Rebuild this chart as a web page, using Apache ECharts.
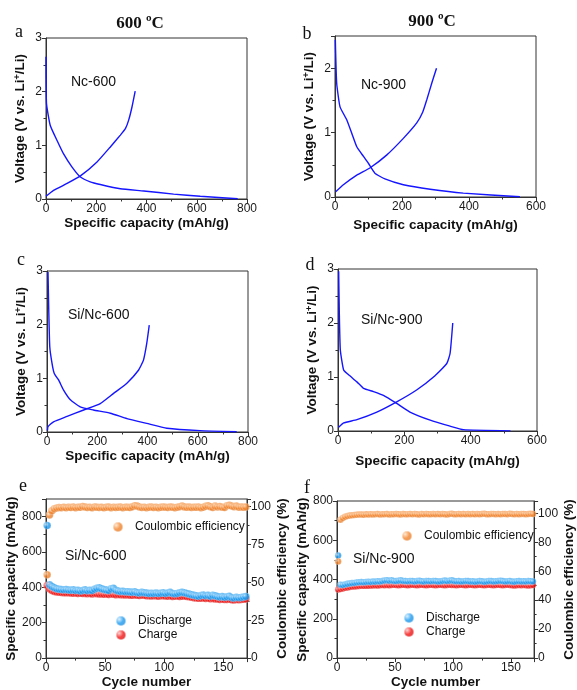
<!DOCTYPE html>
<html>
<head>
<meta charset="utf-8">
<script src="https://cdn.jsdelivr.net/npm/echarts@6/dist/echarts.min.js"></script>
<style>
  html, body { margin: 0; padding: 0; background: #fff; }
  #main { width: 577px; height: 690px; }
</style>
</head>
<body>
<div id="main"></div>
<script>
var FONT = '"Liberation Sans", Arial, sans-serif';
var SERIF = '"Liberation Serif", "Times New Roman", serif';
var LINE_BLUE = '#1515ff';

// 充放电曲线 [容量 mAh/g, 电压 V]
var nc600Discharge = [[0,2.65],[2,1.78],[17,1.37],[44,1.09],[70,0.84],[103,0.6],[137,0.41],[176,0.32],[216,0.27],[296,0.19],[389,0.15],[508,0.09],[614,0.05],[763,0.006]];
var nc600Charge = [[0,0.05],[30,0.16],[84,0.29],[137,0.43],[203,0.69],[256,0.97],[296,1.19],[316,1.31],[329,1.47],[342,1.71],[355,2.01]];

var nc900Discharge = [[1,2.44],[5,1.77],[15,1.4],[35,1.2],[50,0.99],[65,0.78],[85,0.63],[100,0.52],[119,0.37],[149,0.28],[204,0.19],[284,0.12],[383,0.06],[552,0.005]];
var nc900Charge = [[2,0.08],[25,0.19],[65,0.34],[104,0.45],[154,0.65],[204,0.91],[244,1.15],[262,1.32],[274,1.51],[289,1.77],[303,2.0]];

var siNc600Discharge = [[4,2.98],[7,2.27],[11,1.59],[20,1.28],[29,1.09],[46,0.97],[66,0.78],[93,0.6],[132,0.47],[185,0.41],[252,0.35],[318,0.25],[397,0.16],[477,0.07],[609,0.025],[755,0.006]];
var siNc600Charge = [[2,0.03],[4,0.1],[26,0.19],[80,0.29],[146,0.41],[212,0.53],[265,0.72],[318,0.91],[364,1.15],[384,1.34],[397,1.65],[407,1.99]];

var siNc900Discharge = [[2,2.96],[4,2.18],[7,1.5],[17,1.13],[32,1.04],[57,0.91],[77,0.79],[107,0.73],[137,0.66],[177,0.51],[217,0.35],[278,0.2],[338,0.09],[378,0.025],[520,0.003]];
var siNc900Charge = [[2,0.07],[17,0.15],[57,0.21],[117,0.35],[177,0.54],[237,0.76],[288,1.0],[328,1.25],[338,1.44],[346,2.0]];

// 循环性能
var cycles = [1,3,5,7,9,11,13,15,17,19,21,23,25,27,29,31,33,35,37,39,41,43,45,47,49,51,53,55,57,59,61,63,65,67,69,71,73,75,77,79,81,83,85,87,89,91,93,95,97,99,101,103,105,107,109,111,113,115,117,119,121,123,125,127,129,131,133,135,137,139,141,143,145,147,149,151,153,155,157,159,161,163,165,167,169];

var dischargeE = [750,415,405,398,392,390,388,386,388,385, 384,386,382,384,380,383,386,381,384,382, 390,395,398,392,388,385,382,392,395,384, 380,377,378,375,376,374,372,375,370,368, 372,370,368,365,367,366,368,365,367,370, 366,368,372,366,364,366,370,372,369,366, 362,358,355,352,350,354,357,352,355,350, 356,352,348,345,348,344,347,350,342,340, 344,341,343,346,348];
var chargeE = [410,392,382,377,374,372,371,370,369,370, 368,367,368,366,367,365,366,364,365,363, 366,364,362,363,361,362,360,362,361,359, 360,358,359,357,358,356,355,357,355,354, 356,355,352,353,351,352,353,350,352,353, 351,350,352,349,350,351,349,350,351,348, 347,344,342,340,338,339,340,337,338,336, 337,335,334,332,333,331,332,333,330,329, 331,330,332,333,334];
var ceE = [55,94.5,97.2,98.6,99.1,99.4,99.3,99.6,99.2,99.5, 99.4,99.8,99.3,99.6,99.5,100.1,99.7,99.4,99.6,99.3, 99.8,99.5,99.4,99.6,99.2,99.5,99.7,99.3,99.6,99.4, 99.5,99.8,99.3,99.6,99.5,99.4,99.9,100.6,100.3,99.8, 99.4,99.6,99.3,99.5,99.7,99.4,99.6,99.3,99.5,99.8, 99.6,99.4,99.7,99.5,99.3,99.6,99.9,100.4,99.8,99.5, 99.7,99.4,99.6,99.5,99.8,99.3,99.6,100.2,100.5,99.9, 99.4,100.3,99.8,100.1,99.6,99.4,100.6,100.8,100.4,99.9, 100.3,99.6,99.8,99.5,99.7];

var dischargeF = [522,374,372,375,378,380,382,383,385,386, 387,386,388,389,388,390,389,391,390,392, 395,397,394,396,393,392,394,396,393,392, 391,393,392,390,392,394,391,390,393,392, 391,393,392,390,391,393,395,392,394,396, 393,391,392,390,391,393,392,390,391,389, 390,392,391,389,390,392,393,390,391,392, 394,392,390,391,393,390,389,391,392,390, 391,390,392,391,390];
var chargeF = [349,352,355,358,360,362,364,365,366,367, 368,368,369,369,370,370,371,370,371,372, 371,372,371,372,373,372,371,372,373,372, 371,372,373,372,371,372,373,372,371,372, 373,372,371,372,373,372,371,372,373,372, 372,371,372,373,372,371,372,373,372,371, 372,373,372,371,372,373,372,371,372,373, 372,371,372,373,372,371,370,371,372,371, 372,371,370,371,372];
var ceF = [66.8,95.6,96.8,97.6,98.1,98.4,98.6,98.8,99.0,99.1, 99.2,99.0,99.3,99.1,99.4,99.2,99.3,99.5,99.2,99.4, 99.3,99.5,99.2,99.4,99.3,99.6,99.4,99.2,99.5,99.3, 99.4,99.6,99.3,99.5,99.4,99.2,99.5,99.3,99.6,99.4, 99.3,99.5,99.4,99.6,99.3,99.5,99.4,99.2,99.5,99.7, 99.4,99.3,99.6,99.4,99.5,99.3,99.6,99.4,99.5,99.3, 99.6,99.4,99.5,99.7,99.4,99.3,99.5,99.6,99.4,99.5, 99.3,99.6,99.5,99.4,99.7,99.5,99.3,99.6,99.4,99.5, 99.6,99.4,99.5,99.7,99.5];

function pairs(xs, ys) {
	var out = [];
	for (var i = 0; i < ys.length; i++) {
		out.push([xs[i], ys[i]]);
	}
	return out;
}

/**
 * 立体小球颜色
 */
function ball(light, main, dark) {
	return {
		type: 'radial', x: 0.35, y: 0.35, r: 0.75,
		colorStops: [
			{ offset: 0, color: light },
			{ offset: 0.45, color: main },
			{ offset: 1, color: dark }
		]
	};
}
var ORANGE = ball('#ffe2c4', '#f38630', '#e07620');
var BLUE = ball('#d2ecff', '#1e9cf0', '#1684d6');
var RED = ball('#ffc8c8', '#f41818', '#d40808');

var axisCommon = {
	axisLine: { lineStyle: { color: '#333', width: 1 } },
	axisTick: { length: 4, lineStyle: { color: '#333' } },
	minorTick: { show: true, splitNumber: 2, length: 2.5, lineStyle: { color: '#333' } },
	splitLine: { show: false },
	minorSplitLine: { show: false }
};

function makeAxis(opt) {
	var a = {
		type: 'value',
		gridIndex: opt.grid,
		min: 0,
		max: opt.max,
		interval: opt.interval,
		name: opt.name,
		nameLocation: 'middle',
		nameGap: opt.nameGap,
		nameTextStyle: opt.nameStyle || { fontFamily: FONT, fontSize: 13.5, fontWeight: 'bold', color: '#111' },
		axisLabel: {
			fontFamily: FONT, fontSize: 12, color: '#1a1a1a', margin: 4,
			showMaxLabel: opt.showMax !== false
		}
	};
	if (opt.position) a.position = opt.position;
	if (opt.rotate !== undefined) a.nameRotate = opt.rotate;
	for (var k in axisCommon) a[k] = axisCommon[k];
	return a;
}

var voltName = '{n|Voltage (V vs. Li}{s|+}{n|/Li)}';
var voltStyle = {
	rich: {
		n: { fontFamily: FONT, fontSize: 13.5, fontWeight: 'bold', color: '#111' },
		s: { fontFamily: FONT, fontSize: 9, fontWeight: 'bold', color: '#111', verticalAlign: 'top' }
	}
};
var capName = 'Specific capacity (mAh/g)';

var grids = [
	{ left: 46, top: 38, width: 201, height: 161 },
	{ left: 335, top: 36, width: 201, height: 161 },
	{ left: 47, top: 271, width: 201, height: 161 },
	{ left: 338, top: 269, width: 199, height: 162 },
	{ left: 46, top: 499, width: 201, height: 163 },
	{ left: 337, top: 501, width: 200, height: 161 }
];
for (var g = 0; g < grids.length; g++) {
	grids[g].show = true;
	grids[g].borderColor = '#333';
	grids[g].borderWidth = 1;
	grids[g].backgroundColor = 'transparent';
}

var xAxes = [
	makeAxis({ grid: 0, max: 800, interval: 200, name: capName, nameGap: 16 }),
	makeAxis({ grid: 1, max: 600, interval: 200, name: capName, nameGap: 21 }),
	makeAxis({ grid: 2, max: 800, interval: 200, name: capName, nameGap: 16 }),
	makeAxis({ grid: 3, max: 600, interval: 200, name: capName, nameGap: 23 }),
	makeAxis({ grid: 4, max: 170, interval: 50, name: 'Cycle number', nameGap: 14, showMax: false }),
	makeAxis({ grid: 5, max: 170, interval: 50, name: 'Cycle number', nameGap: 14, showMax: false })
];

var yAxes = [
	makeAxis({ grid: 0, max: 3, interval: 1, name: voltName, nameStyle: voltStyle, nameGap: 19 }),
	makeAxis({ grid: 1, max: 2.5, interval: 1, name: voltName, nameStyle: voltStyle, nameGap: 19, showMax: false }),
	makeAxis({ grid: 2, max: 3, interval: 1, name: voltName, nameStyle: voltStyle, nameGap: 19 }),
	makeAxis({ grid: 3, max: 3, interval: 1, name: voltName, nameStyle: voltStyle, nameGap: 19 }),
	makeAxis({ grid: 4, max: 900, interval: 200, name: 'Specific capacity (mAh/g)', nameGap: 25, showMax: false }),
	makeAxis({ grid: 5, max: 800, interval: 200, name: 'Specific capacity (mAh/g)', nameGap: 27 }),
	makeAxis({ grid: 4, max: 105, interval: 25, name: 'Coulombic efficiency (%)', nameGap: 26, position: 'right', rotate: 90, showMax: false }),
	makeAxis({ grid: 5, max: 108.5, interval: 20, name: 'Coulombic efficiency (%)', nameGap: 26, position: 'right', rotate: 90, showMax: false })
];

function voltLine(idx, data) {
	return {
		type: 'line', xAxisIndex: idx, yAxisIndex: idx,
		data: data, smooth: 0.15, showSymbol: false, silent: true,
		lineStyle: { color: LINE_BLUE, width: 1.4 }
	};
}

function dots(name, xIdx, yIdx, data, color, size) {
	return {
		name: name, type: 'scatter', xAxisIndex: xIdx, yAxisIndex: yIdx,
		data: data, symbolSize: size,
		itemStyle: { color: color, borderColor: 'rgba(255,255,255,0.55)', borderWidth: 0.6 }
	};
}

var series = [
	voltLine(0, nc600Discharge), voltLine(0, nc600Charge),
	voltLine(1, nc900Discharge), voltLine(1, nc900Charge),
	voltLine(2, siNc600Discharge), voltLine(2, siNc600Charge),
	voltLine(3, siNc900Discharge), voltLine(3, siNc900Charge),
	dots('Charge', 4, 4, pairs(cycles, chargeE), RED, 7.5),
	dots('Discharge', 4, 4, pairs(cycles, dischargeE), BLUE, 7.5),
	dots('Coulombic efficiency', 4, 6, pairs(cycles, ceE), ORANGE, 7.5),
	dots('Charge', 5, 5, pairs(cycles, chargeF), RED, 6.5),
	dots('Discharge', 5, 5, pairs(cycles, dischargeF), BLUE, 6.5),
	dots('Coulombic efficiency', 5, 7, pairs(cycles, ceF), ORANGE, 6.5)
];

var legendText = { fontFamily: FONT, fontSize: 12, color: '#111', padding: [0, 0, 0, 7] };
function legendAt(left, top, names) {
	return {
		left: left, top: top, orient: 'vertical', data: names,
		itemWidth: 10, itemHeight: 10, itemGap: 2, padding: 0,
		selectedMode: false, textStyle: legendText
	};
}

function label(x, y, text, font, align) {
	return {
		type: 'text', x: x, y: y, silent: true,
		style: {
			text: text, font: font, fill: '#111',
			align: align || 'left', verticalAlign: 'middle',
			textAlign: align || 'left', textVerticalAlign: 'middle'
		}
	};
}
var titleFont = 'bold 17px ' + SERIF;
var letterFont = '18px ' + SERIF;
var noteFont = '14px ' + FONT;

var option = {
	animation: false,
	backgroundColor: '#fff',
	grid: grids,
	xAxis: xAxes,
	yAxis: yAxes,
	legend: [
		legendAt(112, 521, ['Coulombic efficiency']),
		legendAt(115, 615, ['Discharge', 'Charge']),
		legendAt(401, 530, ['Coulombic efficiency']),
		legendAt(403, 612, ['Discharge', 'Charge'])
	],
	series: series,
	graphic: [
		label(140, 24, '600 ºC', titleFont, 'center'),
		label(432, 22, '900 ºC', titleFont, 'center'),
		label(19, 32, 'a', letterFont, 'center'),
		label(307, 34, 'b', letterFont, 'center'),
		label(21, 260, 'c', letterFont, 'center'),
		label(310, 265, 'd', letterFont, 'center'),
		label(23, 486, 'e', letterFont, 'center'),
		label(307, 488, 'f', letterFont, 'center'),
		label(71, 82, 'Nc-600', noteFont),
		label(361, 85, 'Nc-900', noteFont),
		label(68, 315, 'Si/Nc-600', noteFont),
		label(361, 320, 'Si/Nc-900', noteFont),
		label(65, 556, 'Si/Nc-600', noteFont),
		label(353, 559, 'Si/Nc-900', noteFont)
	]
};

var myChart = echarts.init(document.getElementById('main'));
myChart.setOption(option);
</script>
</body>
</html>
